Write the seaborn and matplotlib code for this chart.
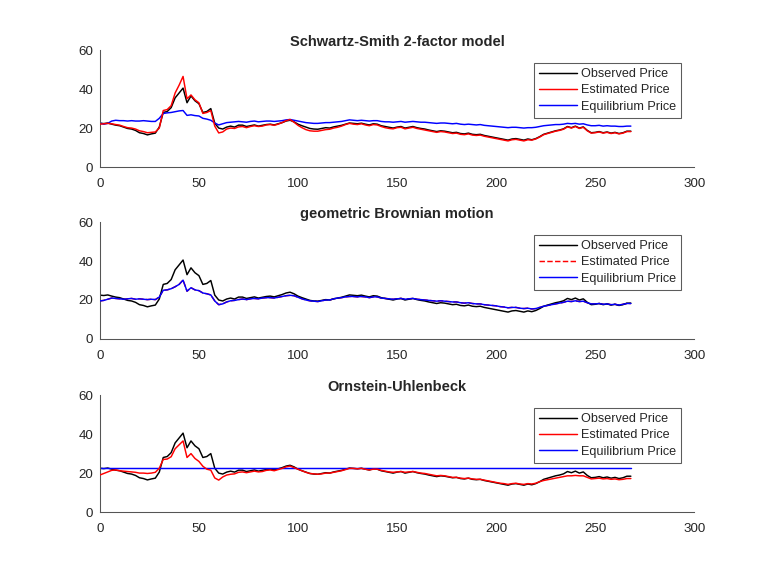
import numpy as np
import pandas as pd
import matplotlib
matplotlib.use("Agg")
import matplotlib.pyplot as plt
import seaborn as sns

# ---- data ----
days = list(range(0, 270, 2))

observed = [22.5, 22.3, 22.6, 22.0, 21.5, 21.2, 20.5, 19.8, 19.5, 18.8,
            17.6, 17.2, 16.5, 17.0, 17.4, 20.5, 28.0, 28.5, 30.5, 35.5,
            38.0, 40.5, 33.0, 36.5, 34.0, 32.5, 28.0, 28.5, 30.0, 22.5,
            20.0, 19.5, 20.5, 21.0, 20.5, 21.5, 21.5, 20.8, 21.2, 21.6,
            21.0, 21.4, 21.8, 22.0, 21.6, 22.2, 22.8, 23.6, 24.0, 23.2,
            22.0, 21.2, 20.5, 19.8, 19.5, 19.4, 19.8, 20.2, 20.0, 20.6,
            21.0, 21.4, 22.0, 22.6, 22.4, 22.2, 22.5, 22.0, 21.6, 22.2,
            22.0, 21.2, 20.8, 20.4, 20.0, 20.5, 20.8, 20.0, 20.4, 20.8,
            20.2, 19.8, 19.5, 19.0, 18.6, 18.2, 18.6, 18.4, 18.0, 17.6,
            17.8, 17.2, 17.0, 17.4, 16.8, 16.6, 16.8, 16.2, 15.8, 15.4,
            15.0, 14.6, 14.2, 13.8, 14.4, 14.6, 14.2, 13.8, 14.4, 14.0,
            14.6, 15.6, 16.8, 17.4, 18.0, 18.6, 19.0, 19.6, 20.8, 20.2,
            21.0, 20.0, 20.6, 18.8, 17.6, 17.8, 18.2, 17.6, 18.0, 17.4,
            17.8, 17.2, 17.6, 18.4, 18.4]

ss_estimated = [22.0, 22.2, 22.4, 22.2, 21.8, 21.5, 20.8, 20.2, 20.0, 19.5,
                18.6, 18.2, 17.6, 17.8, 18.0, 20.0, 29.0, 29.5, 31.5, 38.0,
                42.0, 46.5, 35.0, 37.0, 34.5, 33.0, 27.5, 28.0, 29.0, 21.0,
                17.5, 18.0, 19.5, 20.0, 19.8, 20.6, 20.8, 20.2, 20.8, 21.2,
                20.8, 21.0, 21.6, 21.8, 21.4, 22.0, 22.8, 23.8, 24.4, 23.0,
                21.4, 20.2, 19.2, 18.6, 18.4, 18.4, 18.8, 19.2, 19.4, 20.0,
                20.4, 21.0, 21.8, 22.4, 22.0, 21.8, 22.2, 21.6, 21.2, 21.8,
                21.6, 20.8, 20.2, 19.8, 19.6, 20.2, 20.4, 19.6, 20.0, 20.4,
                19.8, 19.4, 19.0, 18.6, 18.2, 17.8, 18.2, 18.0, 17.6, 17.2,
                17.4, 16.8, 16.6, 17.0, 16.4, 16.2, 16.4, 15.8, 15.4, 15.0,
                14.6, 14.2, 13.8, 13.4, 14.0, 14.2, 13.8, 13.4, 14.0, 13.8,
                14.4, 15.4, 16.6, 17.2, 17.8, 18.4, 18.8, 19.4, 20.6, 20.0,
                20.8, 19.8, 20.4, 18.6, 17.4, 17.6, 18.0, 17.4, 17.8, 17.2,
                17.6, 17.0, 17.4, 18.2, 18.2]

ss_equilibrium = [22.6, 22.0, 22.4, 23.6, 24.0, 23.8, 23.8, 23.6, 23.8, 23.6,
                  23.6, 23.8, 23.6, 23.4, 23.4, 25.0, 27.5, 27.8, 28.0, 28.4,
                  28.8, 29.0, 26.5, 26.8, 26.4, 26.2, 25.0, 24.6, 24.0, 22.6,
                  21.6, 22.2, 22.8, 23.0, 23.2, 23.4, 23.2, 23.0, 23.4, 23.6,
                  23.2, 23.4, 23.6, 23.6, 23.4, 23.6, 23.8, 24.2, 24.4, 24.0,
                  23.6, 23.2, 22.8, 22.6, 22.4, 22.4, 22.6, 22.8, 22.8, 23.0,
                  23.2, 23.4, 23.8, 24.2, 24.0, 23.8, 24.0, 23.8, 23.6, 23.8,
                  23.8, 23.4, 23.2, 23.2, 23.0, 23.2, 23.4, 23.0, 23.2, 23.4,
                  23.2, 23.0, 23.0, 22.8, 22.6, 22.4, 22.6, 22.6, 22.4, 22.2,
                  22.4, 22.0, 21.8, 22.0, 21.8, 21.6, 21.8, 21.4, 21.2, 21.0,
                  20.8, 20.6, 20.4, 20.2, 20.4, 20.4, 20.2, 20.0, 20.2, 20.2,
                  20.4, 20.8, 21.2, 21.4, 21.6, 21.8, 21.8, 22.0, 22.4, 22.2,
                  22.4, 22.0, 22.2, 21.6, 21.2, 21.2, 21.4, 21.0, 21.2, 21.0,
                  21.0, 20.8, 20.8, 21.0, 21.0]

gbm_equilibrium = [19.5, 19.8, 20.4, 21.0, 20.8, 20.6, 20.4, 20.6, 20.8, 20.4,
                   20.6, 20.4, 20.2, 20.4, 20.2, 21.5, 25.0, 25.2, 25.8, 26.8,
                   28.0, 30.2, 24.5, 26.3, 25.2, 24.8, 23.6, 23.2, 22.6, 19.5,
                   17.6, 18.0, 19.0, 19.6, 19.8, 20.2, 20.5, 20.2, 20.6, 20.8,
                   20.6, 21.0, 21.2, 21.2, 21.0, 21.4, 21.8, 22.2, 22.4, 22.2,
                   21.4, 20.6, 20.0, 19.6, 19.4, 19.2, 19.6, 20.0, 20.0, 20.6,
                   21.0, 21.2, 21.6, 21.8, 21.8, 21.6, 21.8, 21.6, 21.2, 21.6,
                   21.6, 21.0, 20.8, 20.6, 20.4, 20.6, 20.8, 20.4, 20.6, 20.8,
                   20.4, 20.2, 20.0, 19.8, 19.6, 19.4, 19.6, 19.4, 19.2, 19.0,
                   19.0, 18.6, 18.4, 18.6, 18.2, 18.0, 18.0, 17.6, 17.4, 17.2,
                   17.0, 16.6, 16.4, 16.0, 16.2, 16.2, 15.8, 15.6, 15.8, 15.4,
                   15.6, 16.2, 16.8, 17.2, 17.6, 18.0, 18.4, 18.8, 19.4, 19.2,
                   19.6, 19.2, 19.4, 18.6, 18.0, 18.0, 18.2, 17.8, 18.0, 17.6,
                   17.8, 17.4, 17.8, 18.2, 18.2]
gbm_estimated = list(gbm_equilibrium)

ou_estimated = [19.0, 19.8, 20.6, 21.4, 21.6, 21.2, 21.0, 20.8, 20.6, 20.4,
                20.0, 20.0, 19.8, 20.0, 20.4, 22.5, 27.0, 27.2, 28.4, 32.5,
                34.5, 36.5, 28.0, 30.0, 27.5, 26.0, 23.5, 22.0, 21.5, 17.5,
                16.4, 18.0, 19.0, 19.4, 19.6, 20.4, 20.6, 20.2, 20.6, 21.0,
                20.6, 20.8, 21.4, 21.6, 21.2, 21.8, 22.4, 23.2, 23.6, 22.8,
                22.0, 21.2, 20.4, 19.8, 19.6, 19.4, 19.6, 20.0, 20.0, 20.4,
                20.8, 21.2, 21.8, 22.4, 22.4, 22.2, 22.4, 22.0, 21.6, 22.0,
                22.0, 21.4, 21.0, 20.6, 20.4, 20.6, 20.8, 20.4, 20.6, 20.8,
                20.4, 20.0, 19.8, 19.4, 19.0, 18.6, 18.8, 18.6, 18.2, 17.8,
                17.8, 17.4, 17.2, 17.4, 17.0, 16.8, 16.8, 16.4, 16.0, 15.6,
                15.2, 14.8, 14.6, 14.2, 14.6, 14.8, 14.4, 14.2, 14.6, 14.4,
                14.8, 15.6, 16.2, 16.6, 17.0, 17.4, 17.8, 18.2, 18.6, 18.6,
                18.8, 18.6, 18.6, 17.8, 17.0, 17.2, 17.4, 17.0, 17.2, 16.8,
                17.0, 16.6, 16.8, 17.2, 17.2]
ou_level = 22.7
ou_equilibrium = [ou_level] * len(days)

titles = ["Schwartz-Smith 2-factor model", "geometric Brownian motion",
          "Ornstein-Uhlenbeck"]
x_ticks = [0, 50, 100, 150, 200, 250, 300]
y_ticks = [0, 20, 40, 60]

# ---- styling ----
sns.set_style("white")
plt.rcParams["font.family"] = ["Liberation Sans", "DejaVu Sans"]

fig = plt.figure(figsize=(8, 6), dpi=96)
positions = [[0.130, 0.710, 0.774, 0.203],
             [0.130, 0.4115, 0.774, 0.203],
             [0.130, 0.111, 0.774, 0.203]]

panels = [
    (observed, ss_estimated, ss_equilibrium, "-"),
    (observed, gbm_estimated, gbm_equilibrium, "--"),
    (observed, ou_estimated, ou_equilibrium, "-"),
]

axis_col = "#555555"
for pos, title, (obs, est, eq, est_ls) in zip(positions, titles, panels):
    ax = fig.add_axes(pos)
    df = pd.DataFrame({"day": days, "obs": obs, "est": est, "eq": eq})
    sns.lineplot(data=df, x="day", y="obs", ax=ax, color="black", lw=1.1,
                 label="Observed Price", zorder=2)
    if est_ls == "--":
        sns.lineplot(data=df, x="day", y="est", ax=ax, color="red", lw=1.1,
                     label="Estimated Price", zorder=1, linestyle="--")
        sns.lineplot(data=df, x="day", y="eq", ax=ax, color="blue", lw=1.1,
                     label="Equilibrium Price", zorder=3)
    else:
        sns.lineplot(data=df, x="day", y="est", ax=ax, color="red", lw=1.1,
                     label="Estimated Price", zorder=3)
        sns.lineplot(data=df, x="day", y="eq", ax=ax, color="blue", lw=1.1,
                     label="Equilibrium Price", zorder=2)
    ax.set_xlim(0, 300)
    ax.set_ylim(0, 60)
    ax.set_xticks(x_ticks)
    ax.set_yticks(y_ticks)
    ax.set_xlabel("")
    ax.set_ylabel("")
    ax.set_title(title, fontsize=11, fontweight="bold", pad=3)
    for s in ["top", "right"]:
        ax.spines[s].set_visible(False)
    for s in ["left", "bottom"]:
        ax.spines[s].set_color(axis_col)
        ax.spines[s].set_linewidth(0.8)
    ax.tick_params(direction="in", length=4, width=0.8, colors=axis_col,
                   labelcolor="#262626", labelsize=10, pad=5)
    ax.tick_params(axis="x", pad=8)
    leg = ax.legend(loc="upper right", bbox_to_anchor=(0.978, 0.89),
                    fontsize=9.5, frameon=True, fancybox=False,
                    handlelength=3.0, handletextpad=0.3, borderpad=0.4,
                    labelspacing=0.35, borderaxespad=0)
    leg.get_frame().set_edgecolor("#333333")
    leg.get_frame().set_linewidth(0.8)

fig.savefig("out.png", dpi=96)
